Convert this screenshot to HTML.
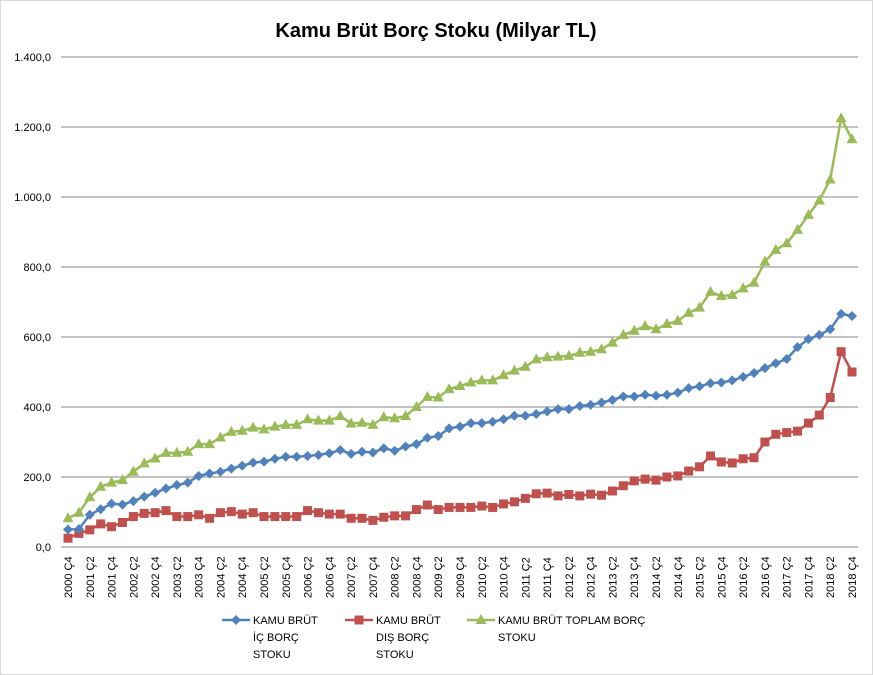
<!DOCTYPE html>
<html><head><meta charset="utf-8"><style>
body{margin:0;background:#fff;}
svg{display:block;font-family:"Liberation Sans",sans-serif;}
</style></head><body>
<svg id="c" width="873" height="675" xmlns="http://www.w3.org/2000/svg">
<rect x="0.5" y="0.5" width="872" height="674" fill="#fff" stroke="#d9d9d9"/>
<text x="436" y="37" text-anchor="middle" font-size="20" font-weight="bold" fill="#000">Kamu Brüt Borç Stoku (Milyar TL)</text>
</svg>
<script>
var s=document.getElementById('c'),NS='http://www.w3.org/2000/svg';
function el(t,a,txt){var e=document.createElementNS(NS,t);for(var k in a)e.setAttribute(k,a[k]);if(txt!=null)e.textContent=txt;s.appendChild(e);return e;}
function Y(v){return 547-v*0.35;}
function X(i){return 68+i*10.889;}
var labs=['0,0','200,0','400,0','600,0','800,0','1.000,0','1.200,0','1.400,0'];
for(var k=0;k<8;k++){var y=Y(k*200);el('line',{x1:61,x2:858,y1:y,y2:y,stroke:'#868686','stroke-width':1});el('text',{x:51,y:y+4,'text-anchor':'end','font-size':11,fill:'#000'},labs[k]);}
for(var j=0;j<37;j++){var x=X(j*2);
var q=(j%2==0)?'Ç4':'Ç2';var yr=2000+Math.ceil(j/2);
el('text',{transform:'translate('+(x+4)+',598) rotate(-90)','font-size':11,fill:'#000'},yr+' '+q);}
var blue=[50,51,92,108,124,121,131,144,155,167,177,184,203,210,215,224,232,241,244,252,258,258,260,263,268,277,266,272,270,282,275,287,294,312,317,339,344,354,354,358,365,375,375,380,387,394,394,403,406,413,420,430,430,435,432,435,441,454,459,468,470,476,486,497,511,525,537,571,594,606,622,666,660];
var red=[25,39,49,66,58,70,87,96,98,104,87,87,92,82,98,101,94,98,87,87,87,87,104,98,94,94,82,82,76,85,89,89,107,120,107,113,113,113,117,113,123,129,139,152,154,146,150,146,151,148,160,175,189,194,191,200,203,217,229,260,243,240,252,255,300,322,327,331,354,377,427,558,500];
var green=[82,98,142,172,184,191,215,239,253,269,269,272,294,294,313,329,332,341,336,344,349,349,365,361,361,374,353,355,349,371,368,374,400,429,427,451,460,470,476,476,491,504,515,536,542,544,546,555,558,565,584,606,618,631,622,637,646,669,684,729,717,720,739,755,815,849,868,906,949,990,1050,1225,1165];
function series(d,col,mk){var p='';d.forEach(function(v,i){p+=(i?'L':'M')+X(i).toFixed(1)+' '+Y(v).toFixed(1);});
el('path',{d:p,fill:'none',stroke:col,'stroke-width':2.5,'stroke-linejoin':'round'});
d.forEach(function(v,i){marker(X(i),Y(v),col,mk);});}
function marker(x,y,col,mk){if(mk=='d')el('path',{d:'M'+x+' '+(y-5)+'L'+(x+5)+' '+y+'L'+x+' '+(y+5)+'L'+(x-5)+' '+y+'Z',fill:col});
else if(mk=='s')el('rect',{x:x-4.5,y:y-4.5,width:9,height:9,fill:col});
else el('path',{d:'M'+x+' '+(y-6)+'L'+(x+5.5)+' '+(y+4)+'L'+(x-5.5)+' '+(y+4)+'Z',fill:col});}
series(green,'#9bbb59','t');series(red,'#c0504d','s');series(blue,'#4f81bd','d');
function leg(x,col,mk,lines){el('line',{x1:x,x2:x+28,y1:620,y2:620,stroke:col,'stroke-width':2.5});marker(x+14,620,col,mk);
lines.forEach(function(t,i){el('text',{x:x+31,y:624+i*17,'font-size':11,fill:'#000'},t);});}
leg(222,'#4f81bd','d',['KAMU BRÜT','İÇ BORÇ','STOKU']);
leg(345,'#c0504d','s',['KAMU BRÜT','DIŞ BORÇ','STOKU']);
leg(467,'#9bbb59','t',['KAMU BRÜT TOPLAM BORÇ','STOKU']);
</script>
</body></html>
